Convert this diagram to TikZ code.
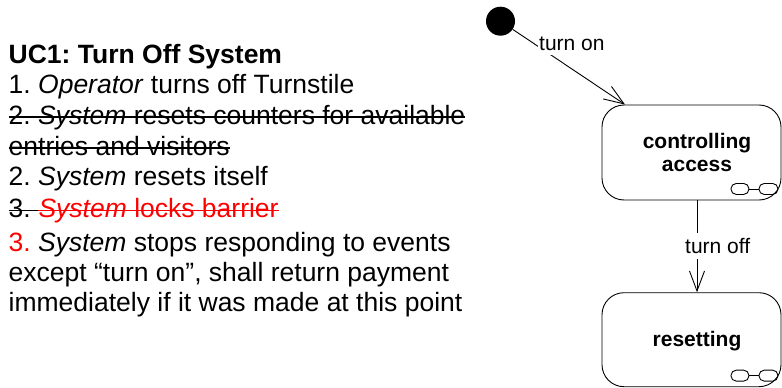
\documentclass[tikz,border=0pt]{standalone}
\usepackage{fontspec}
\setmainfont{Liberation Sans}
\usetikzlibrary{arrows.meta}
\frenchspacing
\begin{document}
\begin{tikzpicture}[x=1pt,y=-1pt,
  body/.style={anchor=base west, inner sep=0pt, font=\fontsize{26.5}{30.5}\selectfont},
  strike/.style={line width=1.6pt},
  statebox/.style={draw, line width=0.9pt, rounded corners=22pt,
    minimum width=179pt, minimum height=95pt, inner sep=0pt},
  statetext/.style={anchor=base, inner sep=0pt, font=\fontsize{21}{24}\selectfont\bfseries},
  trigger/.style={anchor=base west, fill=white, inner xsep=1pt, inner ysep=5pt,
    font=\fontsize{21}{24}\selectfont},
  transition/.style={draw, line width=0.9pt, -{Straight Barb[length=20pt,width=15pt]}},
  decomp/.pic={
    \draw[line width=0.9pt, rounded corners=5.3pt] (-50.5,-17) rectangle (-32.5,-6);
    \draw[line width=0.9pt, rounded corners=5.3pt] (-22.5,-17) rectangle (-3.5,-6);
    \draw[line width=0.9pt] (-32.5,-11.5) -- (-22.5,-11.5);
  }
]
\useasboundingbox (0,0) rectangle (782,388);

% use case text
\node[body, font=\fontsize{26.5}{30.5}\selectfont\bfseries] (title) at (8.5,63.3) {UC1: Turn Off System};
\node[body] (l1) at (8.5,93.5) {1. \textit{Operator} turns off Turnstile};
\node[body] (l2) at (8.5,124) {2. \textit{System} resets counters for available};
\node[body] (l3) at (8.5,155) {entries and visitors};
\node[body] (l4) at (8.5,185.5) {2. \textit{System} resets itself};
\node[body] (l5a) at (8.5,217.5) {3.};
\node[body, text=red, xshift=7.37pt] (l5b) at (l5a.base east) {\textit{System} locks barrier};
\node[body] (l6) at (8.5,251.5) {\textcolor{red}{3.} \textit{System} stops responding to events};
\node[body] (l7) at (8.5,281.3) {except “turn on”, shall return payment};
\node[body] (l8) at (8.5,311) {immediately if it was made at this point};

% struck-out lines
\draw[strike] ([yshift=7pt]l2.base west) -- ([yshift=7pt]l2.base east);
\draw[strike] ([yshift=7pt]l3.base west) -- ([yshift=7pt]l3.base east);
\draw[strike] ([yshift=7pt]l5a.base west) -- ([yshift=7pt]l5b.base west);
\draw[strike, red] ([yshift=7pt]l5b.base west) -- ([yshift=7pt]l5b.base east);

% state machine
\node[circle, fill=black, minimum size=29pt, inner sep=0pt] (init) at (500.5,21.2) {};
\node[statebox] (ctrl) at (691.5,152.5) {};
\node[statebox, minimum height=94pt] (reset) at (691.5,339.7) {};
\node[statetext] (ctrl1) at (697,148.3) {controlling};
\node[statetext] (ctrl2) at (697,171.7) {access};
\node[statetext] (reset1) at (697,346.7) {resetting};
\pic at (ctrl.south east) {decomp};
\pic at (reset.south east) {decomp};

\coordinate (ontip) at (625,0);
\coordinate (offx) at (697,0);
\draw[transition] (init) -- (ctrl.north -| ontip);
\draw[transition] (ctrl.south -| offx) -- (reset.north -| offx);
\node[trigger] (on) at (538,50) {turn on};
\node[trigger] (off) at (684,253.3) {turn off};
\end{tikzpicture}
\end{document}
